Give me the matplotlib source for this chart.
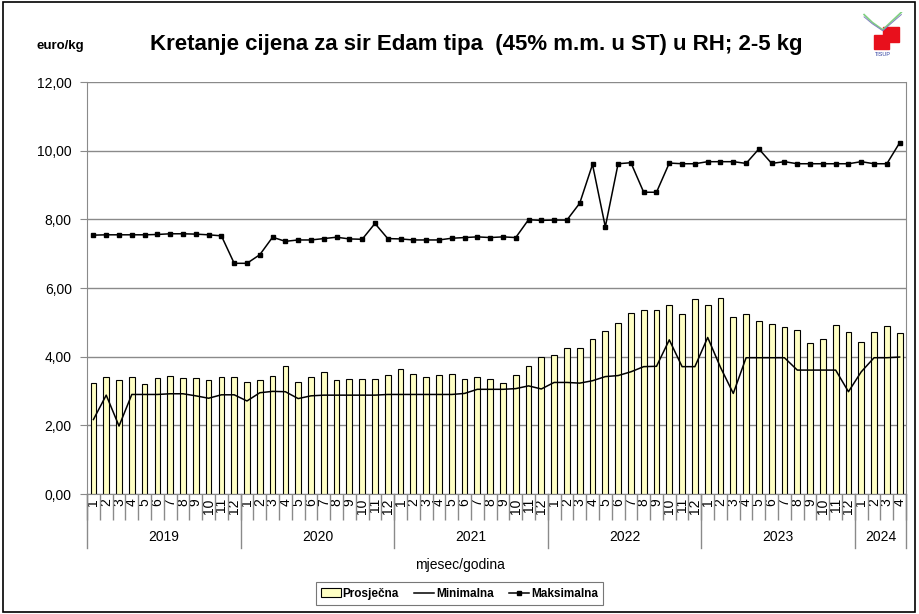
import numpy as np
import matplotlib.pyplot as plt
import matplotlib.transforms as mtransforms
from matplotlib.patches import Rectangle

plt.rcParams['font.family'] = ['Liberation Sans', 'DejaVu Sans']

# godine i broj mjeseci po godini
years = ['2019', '2020', '2021', '2022', '2023', '2024']
months_per_year = [12, 12, 12, 12, 12, 4]

# cijene euro/kg, od 1/2019 do 4/2024
prosjecna = [3.22, 3.40, 3.33, 3.42, 3.20, 3.38, 3.44, 3.38, 3.38, 3.33, 3.40, 3.42,
             3.27, 3.33, 3.44, 3.73, 3.27, 3.40, 3.55, 3.33, 3.36, 3.36, 3.36, 3.48,
             3.65, 3.49, 3.42, 3.46, 3.49, 3.36, 3.40, 3.34, 3.22, 3.48, 3.74, 3.98,
             4.05, 4.26, 4.24, 4.52, 4.76, 4.99, 5.27, 5.37, 5.35, 5.51, 5.25, 5.68,
             5.50, 5.70, 5.16, 5.25, 5.03, 4.94, 4.86, 4.77, 4.39, 4.52, 4.92, 4.73,
             4.44, 4.73, 4.90, 4.69]
minimalna = [2.17, 2.88, 1.98, 2.90, 2.90, 2.90, 2.92, 2.92, 2.86, 2.79, 2.89, 2.89,
             2.71, 2.95, 2.99, 2.98, 2.78, 2.86, 2.88, 2.88, 2.88, 2.88, 2.88, 2.90,
             2.90, 2.90, 2.90, 2.90, 2.90, 2.93, 3.05, 3.05, 3.05, 3.07, 3.15, 3.06,
             3.25, 3.25, 3.23, 3.30, 3.42, 3.45, 3.56, 3.71, 3.72, 4.49, 3.71, 3.71,
             4.56, 3.69, 2.93, 3.97, 3.97, 3.97, 3.97, 3.61, 3.61, 3.61, 3.61, 2.98,
             3.56, 3.97, 3.97, 3.99]
maksimalna = [7.54, 7.55, 7.55, 7.55, 7.55, 7.56, 7.58, 7.58, 7.57, 7.55, 7.52, 6.72,
              6.72, 6.97, 7.48, 7.36, 7.40, 7.40, 7.44, 7.48, 7.43, 7.42, 7.88, 7.44,
              7.43, 7.40, 7.40, 7.40, 7.45, 7.47, 7.49, 7.47, 7.49, 7.47, 7.99, 7.97,
              7.98, 7.98, 8.47, 9.60, 7.78, 9.62, 9.65, 8.79, 8.79, 9.64, 9.62, 9.62,
              9.68, 9.68, 9.68, 9.63, 10.05, 9.63, 9.68, 9.62, 9.62, 9.62, 9.62, 9.62,
              9.68, 9.62, 9.62, 10.23]

month_labels = [str(m) for n in months_per_year for m in range(1, n + 1)]
x = np.arange(len(month_labels))

fig = plt.figure(figsize=(9.19, 6.14), dpi=100)
fig.patches.append(Rectangle((0.003, 0.003), 0.993, 0.993, transform=fig.transFigure,
                             fill=False, edgecolor='black', linewidth=1.2))

ax = fig.add_axes([0.0947, 0.1954, 0.8912, 0.671])
bars = ax.bar(x, prosjecna, width=0.45, color='#FFFFC4', edgecolor='black', linewidth=0.8,
              label='Prosječna', zorder=2)
l_min, = ax.plot(x, minimalna, color='black', linewidth=1.1, label='Minimalna', zorder=3)
l_max, = ax.plot(x, maksimalna, color='black', linewidth=1.1, marker='s', markersize=2.4,
                 label='Maksimalna', zorder=3)

ax.set_xlim(-0.5, len(x) - 0.5)
ax.set_ylim(0, 12)
ax.set_yticks(np.arange(0, 12.1, 2))
ax.yaxis.set_major_formatter(lambda v, p: f'{v:.2f}'.replace('.', ','))
ax.grid(axis='y', color='#8a8a8a', linewidth=1)
ax.set_axisbelow(True)
ax.spines['top'].set_visible(False)
for s in ['left', 'right', 'bottom']:
    ax.spines[s].set_color('#8a8a8a')
ax.tick_params(axis='y', length=5, color='#8a8a8a', labelsize=10, pad=6)

ax.set_xticks(x)
ax.set_xticklabels(month_labels, rotation=90, fontsize=10, va='top')
ax.tick_params(axis='x', which='major', length=0, pad=3)
ax.set_xticks(np.arange(-0.5, len(x), 1), minor=True)
ax.tick_params(axis='x', which='minor', length=19, color='#8a8a8a', width=1)

# granice godina i oznake godina
trans = mtransforms.blended_transform_factory(ax.transData, ax.transAxes)
bounds = np.concatenate([[0], np.cumsum(months_per_year)]) - 0.5
for b in bounds:
    ax.plot([b, b], [0, -0.131], transform=trans, color='#8a8a8a', linewidth=1, clip_on=False)
for i, y in enumerate(years):
    ax.text((bounds[i] + bounds[i + 1]) / 2, -0.105, y, transform=trans,
            ha='center', va='center', fontsize=10)

fig.text(0.5, 0.08, 'mjesec/godina', ha='center', va='center', fontsize=10)
fig.text(0.04, 0.925, 'euro/kg', ha='left', va='center', fontsize=9.5, fontweight='bold')
fig.text(0.518, 0.928, 'Kretanje cijena za sir Edam tipa  (45% m.m. u ST) u RH; 2-5 kg',
         ha='center', va='center', fontsize=16, fontweight='bold',
         family=['Liberation Sans Narrow', 'Liberation Sans'])

leg = fig.legend([bars, l_min, l_max], ['Prosječna', 'Minimalna', 'Maksimalna'],
                 loc='center', bbox_to_anchor=(0.5, 0.033), ncol=3, frameon=True,
                 fancybox=False, edgecolor='#555555', prop={'weight': 'bold', 'size': 8.5},
                 handlelength=1.7, columnspacing=1.3, handletextpad=0.15,
                 borderpad=0.45)
leg.get_frame().set_linewidth(0.8)

# mali logo gore desno
lx = fig.add_axes([0.938, 0.905, 0.045, 0.075])
lx.set_xlim(0, 1)
lx.set_ylim(0, 1)
lx.axis('off')
lx.plot([0.05, 0.25, 0.5, 0.95], [0.95, 0.78, 0.62, 1.0], color='#7fd07f', linewidth=1.2)
lx.plot([0.05, 0.25, 0.5, 0.95], [0.9, 0.75, 0.6, 0.95], color='#8080c0', linewidth=0.7)
lx.add_patch(Rectangle((0.5, 0.36), 0.4, 0.32, color='#e8101c'))
lx.add_patch(Rectangle((0.3, 0.2), 0.35, 0.3, color='#e8101c'))
lx.text(0.5, 0.08, 'TISUP', ha='center', va='center', fontsize=4, color='#3040a0')

fig.savefig('out.png', dpi=100)
